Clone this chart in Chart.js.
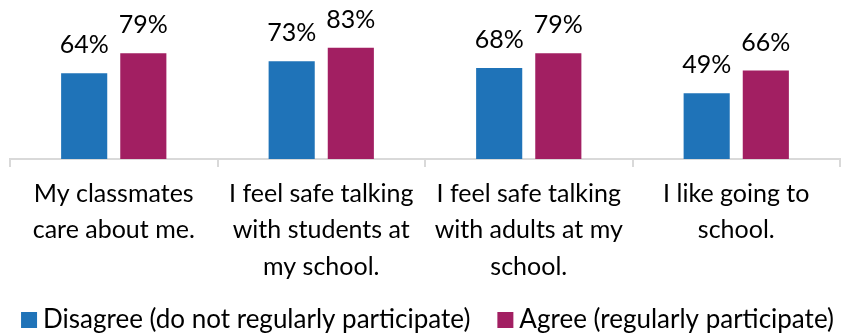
<!DOCTYPE html>
<html><head><meta charset="utf-8">
<script src="https://cdn.jsdelivr.net/npm/chart.js@4/dist/chart.umd.min.js"></script>
<style>html,body{margin:0;padding:0;background:#fff}#wrap{width:844px;height:333px}</style>
</head><body><div id="wrap"><canvas id="c" width="844" height="333"></canvas></div>
<script>
const categories = [
  ["My classmates","care about me."],
  ["I feel safe talking","with students at","my school."],
  ["I feel safe talking","with adults at my","school."],
  ["I like going to","school."]
];
const seriesNames = ["Disagree (do not regularly participate)","Agree (regularly participate)"];
const disagree = [64, 73, 68, 49];
const agree = [79, 83, 79, 66];
const colors = ["#1f73b8","#a21f62"];

const FONT = 'Lato';

const labelPlugin = {
  id:'vals',
  afterDatasetsDraw(chart){
    const ctx = chart.ctx;
    ctx.save();
    ctx.font = '25px ' + FONT;
    ctx.fillStyle = '#000';
    ctx.textAlign = 'center';
    ctx.textBaseline = 'alphabetic';
    chart.data.datasets.forEach((ds,i)=>{
      chart.getDatasetMeta(i).data.forEach((bar,j)=>{
        ctx.fillText(ds.data[j]+'%', bar.x, bar.y-20);
      });
    });
    ctx.restore();
  }
};

const legendPlugin = {
  id:'customLegend',
  afterDraw(chart){
    const ctx = chart.ctx;
    ctx.save();
    ctx.font = '26px ' + FONT;
    ctx.textBaseline = 'alphabetic';
    ctx.textAlign = 'left';
    const box = 16, gapBoxText = 6, gapItems = 27, baseY = 328;
    const ds = chart.data.datasets;
    const widths = ds.map(d => ctx.measureText(d.label).width);
    let total = 0;
    widths.forEach((w,i)=>{ total += box + gapBoxText + w + (i < widths.length-1 ? gapItems : 0); });
    let x = 427.5 - total/2;
    ds.forEach((d,i)=>{
      ctx.fillStyle = d.backgroundColor;
      ctx.fillRect(x, baseY-16, box, box);
      ctx.fillStyle = '#000';
      ctx.fillText(d.label, x + box + gapBoxText, baseY);
      x += box + gapBoxText + widths[i] + gapItems;
    });
    ctx.restore();
  }
};

new Chart(document.getElementById('c'),{
  type:'bar',
  data:{
    labels:categories,
    datasets:[
      {label:seriesNames[0],data:disagree,backgroundColor:colors[0]},
      {label:seriesNames[1],data:agree,backgroundColor:colors[1]}
    ]
  },
  options:{
    responsive:false,
    animation:false,
    layout:{padding:{top:25,left:10,right:4,bottom:26}},
    datasets:{bar:{categoryPercentage:0.57,barPercentage:0.78}},
    scales:{
      x:{
        grid:{offset:true,drawOnChartArea:false,tickLength:8,color:'#d9d9d9',lineWidth:2},
        border:{color:'#d9d9d9',width:2},
        ticks:{font:{family:FONT,size:25,lineHeight:1.45},color:'#000',maxRotation:0,autoSkip:false,padding:9},
        afterFit(scale){ scale.height = 148; }
      },
      y:{display:false,min:0,max:100}
    },
    plugins:{
      legend:{display:false},
      tooltip:{enabled:false}
    }
  },
  plugins:[labelPlugin, legendPlugin]
});
</script></body></html>
